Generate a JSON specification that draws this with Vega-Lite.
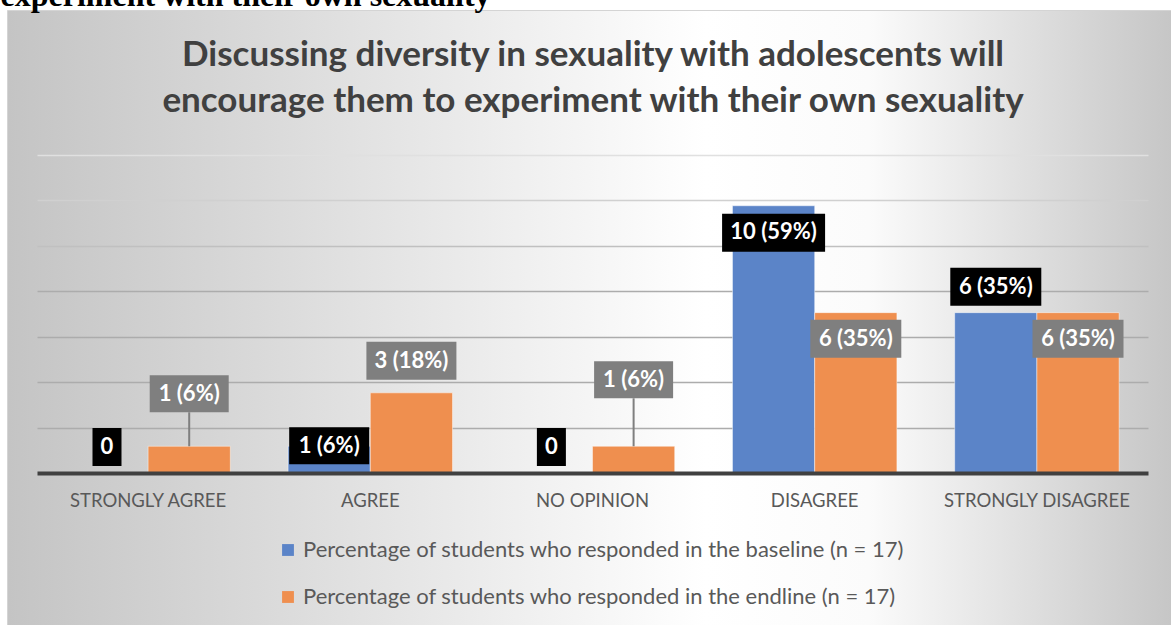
{
  "$schema": "https://vega.github.io/schema/vega-lite/v6.json",
  "width": 1164,
  "height": 615,
  "autosize": {"type": "none"},
  "padding": {"left": 7, "top": 10, "right": 0, "bottom": 0},
  "background": "#ffffff",
  "config": {
    "view": {
      "stroke": "#d4d4d4",
      "strokeWidth": 1,
      "fill": {
        "gradient": "linear",
        "x1": 0, "y1": 0, "x2": 1, "y2": 0,
        "stops": [
          {"offset": 0, "color": "#c4c4c4"},
          {"offset": 0.6, "color": "#ffffff"},
          {"offset": 0.74, "color": "#fbfbfb"},
          {"offset": 1, "color": "#c6c6c6"}
        ]
      }
    },
    "font": "Lato"
  },
  "title": {
    "text": [
      "Discussing diversity in sexuality with adolescents will",
      "encourage them to experiment with their own sexuality"
    ],
    "font": "Lato",
    "fontSize": 35,
    "fontWeight": "bold",
    "color": "#404040",
    "anchor": "middle",
    "frame": "group",
    "baseline": "alphabetic",
    "lineHeight": 46,
    "offset": -168,
    "dx": 4
  },
  "data": {
    "values": [
      {"answer": "STRONGLY AGREE", "series": "Percentage of students who responded in the baseline (n = 17)", "count": 0, "label": "0"},
      {"answer": "AGREE", "series": "Percentage of students who responded in the baseline (n = 17)", "count": 1, "label": "1 (6%)"},
      {"answer": "NO OPINION", "series": "Percentage of students who responded in the baseline (n = 17)", "count": 0, "label": "0"},
      {"answer": "DISAGREE", "series": "Percentage of students who responded in the baseline (n = 17)", "count": 10, "label": "10 (59%)"},
      {"answer": "STRONGLY DISAGREE", "series": "Percentage of students who responded in the baseline (n = 17)", "count": 6, "label": "6 (35%)"},
      {"answer": "STRONGLY AGREE", "series": "Percentage of students who responded in the endline (n = 17)", "count": 1, "label": "1 (6%)"},
      {"answer": "AGREE", "series": "Percentage of students who responded in the endline (n = 17)", "count": 3, "label": "3 (18%)"},
      {"answer": "NO OPINION", "series": "Percentage of students who responded in the endline (n = 17)", "count": 1, "label": "1 (6%)"},
      {"answer": "DISAGREE", "series": "Percentage of students who responded in the endline (n = 17)", "count": 6, "label": "6 (35%)"},
      {"answer": "STRONGLY DISAGREE", "series": "Percentage of students who responded in the endline (n = 17)", "count": 6, "label": "6 (35%)"}
    ]
  },
  "encoding": {
    "x": {
      "field": "answer",
      "type": "nominal",
      "sort": ["STRONGLY AGREE", "AGREE", "NO OPINION", "DISAGREE", "STRONGLY DISAGREE"],
      "scale": {"range": [30, 1141], "paddingInner": 0.26, "paddingOuter": 0.13},
      "axis": {
        "title": null,
        "labelAngle": 0,
        "labelFont": "Lato",
        "labelFontSize": 18.5,
        "labelColor": "#595959",
        "labelPadding": 18,
        "labelLimit": 400,
        "ticks": false,
        "grid": false,
        "domainColor": "#404040",
        "domainWidth": 4,
        "offset": -152,
        "zindex": 1
      }
    },
    "xOffset": {
      "field": "series",
      "type": "nominal",
      "sort": [
        "Percentage of students who responded in the baseline (n = 17)",
        "Percentage of students who responded in the endline (n = 17)"
      ],
      "scale": {"paddingInner": 0, "paddingOuter": 0}
    },
    "y": {
      "field": "count",
      "type": "quantitative",
      "stack": null,
      "scale": {"domain": [0, 11.9], "range": [463, 145], "nice": false},
      "axis": {
        "values": [1.7, 3.4, 5.1, 6.8, 8.5, 10.2, 11.9],
        "grid": true,
        "gridWidth": 1.5,
        "gridColor": {
          "condition": [
            {"test": "datum.value > 11", "value": "#e0e0e0"},
            {"test": "datum.value > 10", "value": "#d0d0d0"},
            {"test": "datum.value > 8", "value": "#c0c0c0"}
          ],
          "value": "#acacac"
        },
        "domain": false,
        "ticks": false,
        "labels": false,
        "title": "experiment with their own sexuality",
        "titleAngle": 0,
        "titleAlign": "left",
        "titleBaseline": "alphabetic",
        "titleX": -7,
        "titleY": -5,
        "titleFont": "Liberation Serif",
        "titleFontSize": 32,
        "titleFontWeight": "bold",
        "titleColor": "#000000"
      }
    }
  },
  "layer": [
    {
      "mark": {"type": "bar", "stroke": "#ffffff", "strokeOpacity": 0.45, "strokeWidth": 1},
      "encoding": {
        "color": {
          "field": "series",
          "type": "nominal",
          "sort": [
            "Percentage of students who responded in the baseline (n = 17)",
            "Percentage of students who responded in the endline (n = 17)"
          ],
          "scale": {"range": ["#5b84c8", "#ef8f4f"]},
          "legend": {
            "orient": "none",
            "legendX": 270,
            "legendY": 529,
            "direction": "vertical",
            "title": null,
            "symbolType": "square",
            "symbolSize": 140,
            "symbolStrokeWidth": 0,
            "labelFont": "Lato",
            "labelFontSize": 22,
            "labelColor": "#595959",
            "labelOffset": 4,
            "labelLimit": 0,
            "rowPadding": 25
          }
        }
      }
    },
    {
      "transform": [{"filter": "datum.series === 'Percentage of students who responded in the endline (n = 17)' && datum.answer === 'STRONGLY AGREE'"}],
      "mark": {"type": "rule", "color": "#7f7f7f", "strokeWidth": 2, "yOffset": -34, "y2Offset": 0},
      "encoding": {"y2": {"field": "count"}}
    },
    {
      "transform": [{"filter": "datum.series === 'Percentage of students who responded in the endline (n = 17)' && datum.answer === 'NO OPINION'"}],
      "mark": {"type": "rule", "color": "#7f7f7f", "strokeWidth": 2, "yOffset": -48, "y2Offset": 0},
      "encoding": {"y2": {"field": "count"}}
    },
    {
      "transform": [{"filter": "datum.series === 'Percentage of students who responded in the baseline (n = 17)' && datum.count === 0"}],
      "mark": {"type": "bar", "width": 29, "fill": "#000000", "yOffset": -45, "y2Offset": -7},
      "encoding": {"y2": {"field": "count"}}
    },
    {
      "transform": [{"filter": "datum.series === 'Percentage of students who responded in the baseline (n = 17)' && datum.answer === 'STRONGLY DISAGREE'"}],
      "mark": {"type": "bar", "width": 91, "fill": "#000000", "yOffset": -45, "y2Offset": -7},
      "encoding": {"y2": {"field": "count"}}
    },
    {
      "transform": [{"filter": "datum.series === 'Percentage of students who responded in the baseline (n = 17)' && datum.answer === 'DISAGREE'"}],
      "mark": {"type": "bar", "width": 103, "fill": "#000000", "yOffset": 8, "y2Offset": 46},
      "encoding": {"y2": {"field": "count"}}
    },
    {
      "transform": [{"filter": "datum.series === 'Percentage of students who responded in the baseline (n = 17)' && datum.answer === 'AGREE'"}],
      "mark": {"type": "bar", "width": 80, "fill": "#000000", "yOffset": -19, "y2Offset": 18},
      "encoding": {"y2": {"field": "count"}}
    },
    {
      "transform": [{"filter": "datum.series === 'Percentage of students who responded in the endline (n = 17)' && datum.answer === 'STRONGLY AGREE'"}],
      "mark": {"type": "bar", "width": 79, "fill": "#7f7f7f", "yOffset": -71, "y2Offset": -34},
      "encoding": {"y2": {"field": "count"}}
    },
    {
      "transform": [{"filter": "datum.series === 'Percentage of students who responded in the endline (n = 17)' && datum.answer === 'NO OPINION'"}],
      "mark": {"type": "bar", "width": 79, "fill": "#7f7f7f", "yOffset": -85, "y2Offset": -48},
      "encoding": {"y2": {"field": "count"}}
    },
    {
      "transform": [{"filter": "datum.series === 'Percentage of students who responded in the endline (n = 17)' && datum.answer === 'AGREE'"}],
      "mark": {"type": "bar", "width": 90, "fill": "#7f7f7f", "yOffset": -51, "y2Offset": -13},
      "encoding": {"y2": {"field": "count"}}
    },
    {
      "transform": [{"filter": "datum.series === 'Percentage of students who responded in the endline (n = 17)' && (datum.answer === 'DISAGREE' || datum.answer === 'STRONGLY DISAGREE')"}],
      "mark": {"type": "bar", "width": 91, "fill": "#7f7f7f", "yOffset": 7, "y2Offset": 45},
      "encoding": {"y2": {"field": "count"}}
    },
    {
      "transform": [{"filter": "datum.series === 'Percentage of students who responded in the baseline (n = 17)' && (datum.count === 0 || datum.answer === 'STRONGLY DISAGREE')"}],
      "mark": {"type": "text", "dy": -26, "color": "#ffffff", "font": "Lato", "fontWeight": "bold", "fontSize": 22, "baseline": "middle"},
      "encoding": {"text": {"field": "label"}}
    },
    {
      "transform": [{"filter": "(datum.series === 'Percentage of students who responded in the baseline (n = 17)' && datum.answer === 'DISAGREE') || (datum.series === 'Percentage of students who responded in the endline (n = 17)' && (datum.answer === 'DISAGREE' || datum.answer === 'STRONGLY DISAGREE'))"}],
      "mark": {"type": "text", "dy": 26.5, "color": "#ffffff", "font": "Lato", "fontWeight": "bold", "fontSize": 22, "baseline": "middle"},
      "encoding": {"text": {"field": "label"}}
    },
    {
      "transform": [{"filter": "datum.series === 'Percentage of students who responded in the baseline (n = 17)' && datum.answer === 'AGREE'"}],
      "mark": {"type": "text", "dy": -0.5, "color": "#ffffff", "font": "Lato", "fontWeight": "bold", "fontSize": 22, "baseline": "middle"},
      "encoding": {"text": {"field": "label"}}
    },
    {
      "transform": [{"filter": "datum.series === 'Percentage of students who responded in the endline (n = 17)' && datum.answer === 'STRONGLY AGREE'"}],
      "mark": {"type": "text", "dy": -52.5, "color": "#ffffff", "font": "Lato", "fontWeight": "bold", "fontSize": 22, "baseline": "middle"},
      "encoding": {"text": {"field": "label"}}
    },
    {
      "transform": [{"filter": "datum.series === 'Percentage of students who responded in the endline (n = 17)' && datum.answer === 'NO OPINION'"}],
      "mark": {"type": "text", "dy": -66.5, "color": "#ffffff", "font": "Lato", "fontWeight": "bold", "fontSize": 22, "baseline": "middle"},
      "encoding": {"text": {"field": "label"}}
    },
    {
      "transform": [{"filter": "datum.series === 'Percentage of students who responded in the endline (n = 17)' && datum.answer === 'AGREE'"}],
      "mark": {"type": "text", "dy": -32, "color": "#ffffff", "font": "Lato", "fontWeight": "bold", "fontSize": 22, "baseline": "middle"},
      "encoding": {"text": {"field": "label"}}
    }
  ]
}
